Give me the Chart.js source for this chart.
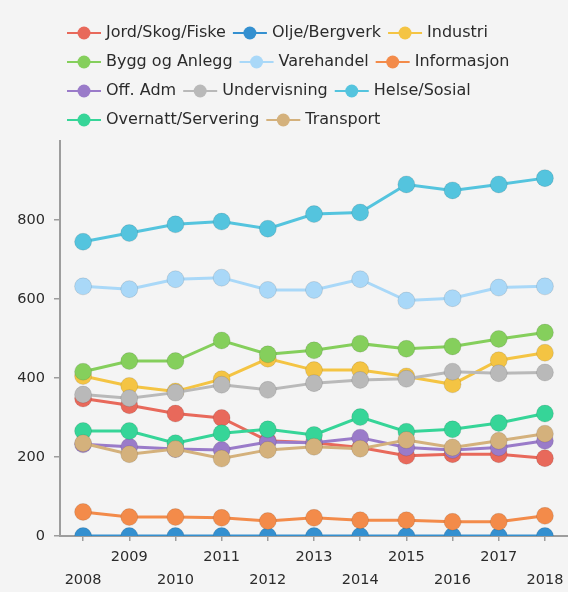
<!DOCTYPE html>
<html>
<head>
<meta charset="utf-8">
<script src="https://cdn.jsdelivr.net/npm/chart.js"></script>
<style>
  html, body { margin: 0; padding: 0; background: #f4f4f4; }
  #wrap { width: 568px; height: 592px; }
</style>
</head>
<body>
<div id="wrap"><canvas id="canvas"></canvas></div>
<script>
var years = ["2008", "2009", "2010", "2011", "2012", "2013", "2014", "2015", "2016", "2017", "2018"];

var names = ["Jord/Skog/Fiske", "Olje/Bergverk", "Industri", "Bygg og Anlegg", "Varehandel", "Informasjon",
             "Off. Adm", "Undervisning", "Helse/Sosial", "Overnatt/Servering", "Transport"];

var jord      = [348, 331, 310, 299, 241, 236, 224, 203, 207, 207, 197];
var olje      = [0, 0, 0, 0, 0, 0, 0, 0, 0, 0, 0];
var industri  = [405, 380, 366, 397, 449, 420, 420, 404, 384, 445, 464];
var bygg      = [416, 443, 443, 495, 460, 470, 487, 474, 480, 499, 515];
var varehandel = [632, 625, 650, 654, 623, 623, 650, 596, 602, 629, 632];
var info      = [61, 48, 48, 46, 38, 46, 40, 40, 36, 36, 51];
var offAdm    = [232, 226, 220, 218, 238, 236, 249, 224, 218, 224, 241];
var underv    = [358, 349, 363, 383, 370, 387, 395, 398, 416, 412, 414];
var helse     = [745, 767, 789, 796, 778, 815, 819, 890, 875, 890, 906];
var overnatt  = [266, 266, 235, 260, 270, 256, 301, 264, 270, 286, 310];
var transport = [235, 207, 220, 196, 218, 226, 221, 243, 224, 241, 259];

var yTicksMax = 800;

var series = [jord, olje, industri, bygg, varehandel, info, offAdm, underv, helse, overnatt, transport];
var colors = ["#e8695b", "#3490d0", "#f4c443", "#85cf5c", "#a9d8f8", "#f38b4a",
              "#9a7bc9", "#b9b9b9", "#54c4de", "#36d598", "#d4b17c"];

Chart.defaults.font.family = "'DejaVu Sans', sans-serif";
Chart.defaults.color = "#2b2b2b";

// legend: line with a dot through it, like the original
var legendMarks = {
  id: "legendMarks",
  afterDraw: function(chart) {
    var lg = chart.legend, ctx = chart.ctx;
    if (!lg || !lg.legendHitBoxes) return;
    lg.legendItems.forEach(function(item, i) {
      var box = lg.legendHitBoxes[i];
      var c = colors[item.datasetIndex];
      var y = box.top + box.height / 2;
      ctx.save();
      ctx.strokeStyle = c;
      ctx.lineWidth = 2;
      ctx.beginPath();
      ctx.moveTo(box.left, y);
      ctx.lineTo(box.left + 34, y);
      ctx.stroke();
      ctx.fillStyle = c;
      ctx.beginPath();
      ctx.arc(box.left + 17, y, 6.5, 0, Math.PI * 2);
      ctx.fill();
      ctx.restore();
    });
  }
};

var datasets = series.map(function(d, i) {
  return {
    label: names[i],
    data: d,
    borderColor: colors[i],
    backgroundColor: colors[i],
    borderWidth: 3,
    pointRadius: 8.5,
    pointHoverRadius: 8.5,
    pointBorderWidth: 1,
    pointBorderColor: "rgba(0,0,0,0.10)",
    pointBackgroundColor: colors[i],
    tension: 0,
    order: series.length - i
  };
});

new Chart(document.getElementById("canvas"), {
  type: "line",
  data: { labels: years, datasets: datasets },
  plugins: [legendMarks],
  options: {
    responsive: true,
    maintainAspectRatio: false,
    animation: false,
    layout: { autoPadding: false, padding: { top: 15, left: 0, right: 0, bottom: 0 } },
    plugins: {
      tooltip: { enabled: false },
      legend: {
        position: "top",
        align: "start",
        fullSize: false,
        labels: {
          boxWidth: 31,
          boxHeight: 22,
          padding: 7,
          color: "#2b2b2b",
          font: { size: 16 },
          sort: function(a, b) { return a.datasetIndex - b.datasetIndex; },
          generateLabels: function(chart) {
            var items = Chart.defaults.plugins.legend.labels.generateLabels(chart);
            items.forEach(function(it) {
              it.fillStyle = "rgba(0,0,0,0)";
              it.strokeStyle = "rgba(0,0,0,0)";
              it.lineWidth = 0;
            });
            return items;
          }
        }
      }
    },
    scales: {
      x: {
        offset: true,
        afterFit: function(axis) {
          axis.height = 56;
          axis.paddingLeft = 0;
          axis.paddingRight = 0;
        },
        grid: { offset: false, drawOnChartArea: false, tickLength: 5, color: "#9d9d9d", lineWidth: 1.5 },
        border: { color: "#9d9d9d", width: 2 },
        ticks: {
          autoSkip: false,
          maxRotation: 0,
          padding: 4,
          color: "#2b2b2b",
          font: { size: 14.5, lineHeight: "23.5px" },
          callback: function(val, i) {
            var y = this.getLabelForValue(val);
            return i % 2 ? [y, ""] : ["", y];
          }
        }
      },
      y: {
        min: 0,
        max: 1000,
        afterBuildTicks: function(axis) {
          axis.ticks = axis.ticks.filter(function(t) { return t.value <= yTicksMax; });
        },
        afterFit: function(axis) {
          axis.width = 60;
          axis.paddingTop = 0;
          axis.paddingBottom = 0;
        },
        grid: { drawOnChartArea: false, tickLength: 6, color: "#9d9d9d", lineWidth: 1.5 },
        border: { color: "#9d9d9d", width: 2 },
        ticks: { stepSize: 200, padding: 9, color: "#2b2b2b", font: { size: 14.5 } }
      }
    }
  }
});
</script>
</body>
</html>
